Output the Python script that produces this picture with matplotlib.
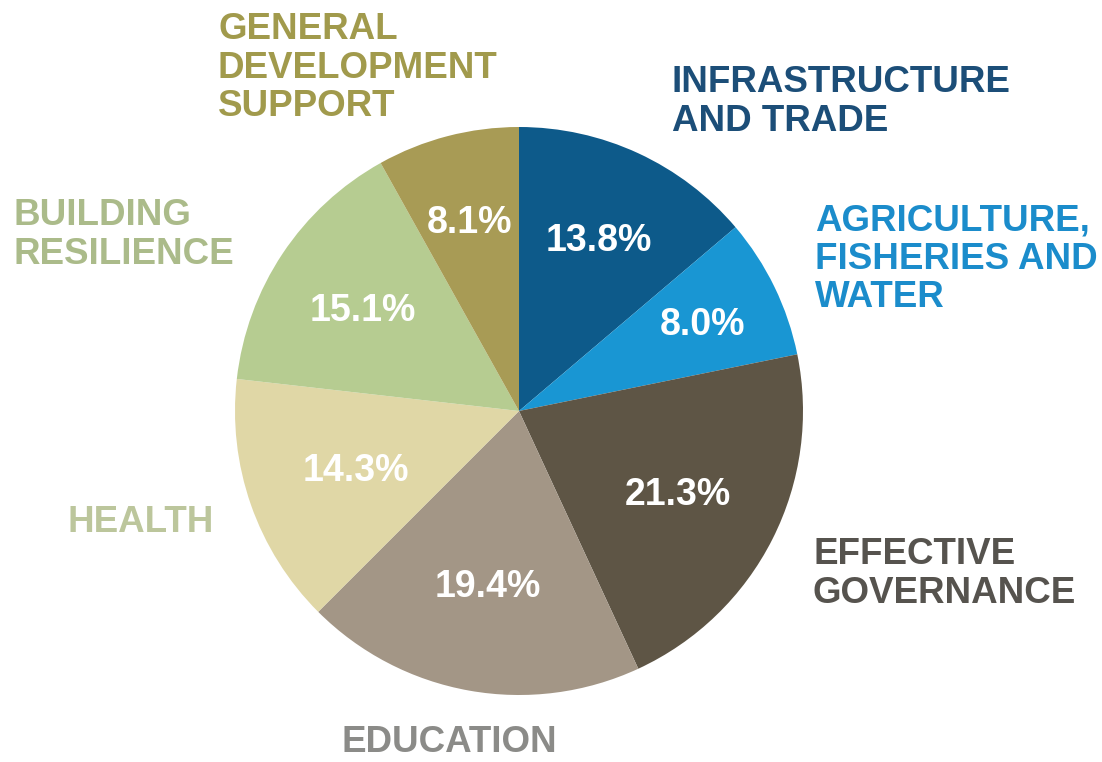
import numpy as np
import matplotlib
matplotlib.use("Agg")
import matplotlib.pyplot as plt

categories = ['INFRASTRUCTURE\nAND TRADE', 'AGRICULTURE,\nFISHERIES AND\nWATER',
              'EFFECTIVE\nGOVERNANCE', 'EDUCATION', 'HEALTH',
              'BUILDING\nRESILIENCE', 'GENERAL\nDEVELOPMENT\nSUPPORT']
shares = [13.8, 8.0, 21.3, 19.4, 14.3, 15.1, 8.1]

slice_colors = ['#0d5a8a', '#1996d3', '#5e5545', '#a39686', '#e0d7a6', '#b6cc91', '#a89b55']
text_colors = ['#1c4e78', '#1b8ccb', '#56534e', '#8b8b88', '#bcc69c', '#abbb8a', '#a19a4c']
pct_dist = [0.673, 0.72, 0.628, 0.618, 0.608, 0.66, 0.696]
# label block centres in pixels (left edge x, middle y)
label_pos = [(672, 102), (815, 259), (813, 574), (342, 743), (68, 523), (13, 235), (218, 68)]

plt.rcParams['font.family'] = ['Liberation Sans', 'DejaVu Sans']

W, H = 1102, 762
cx, cy, R = 519, 411, 284
fig = plt.figure(figsize=(W / 100, H / 100), dpi=100)
ax = fig.add_axes([0, 0, 1, 1])

wedges, _ = ax.pie(shares, colors=slice_colors, startangle=90, counterclock=False,
                   radius=1, wedgeprops=dict(linewidth=0))
ax.set_aspect('auto')
ax.set_xlim(-cx / R, (W - cx) / R)
ax.set_ylim(-(H - cy) / R, cy / R)
ax.axis('off')

pct_size = 27
half_cap = 0.716 * pct_size * 100 / 72 / 2 / R
for w, val, d in zip(wedges, shares, pct_dist):
    ang = np.deg2rad((w.theta1 + w.theta2) / 2)
    ax.text(d * np.cos(ang), d * np.sin(ang) - half_cap, f'{val:.1f}%', color='white',
            fontsize=pct_size, fontweight='bold', ha='center', va='baseline')

for lab, col, (px, py) in zip(categories, text_colors, label_pos):
    ax.text((px - cx) / R, (cy - py) / R, lab, color=col, fontsize=26.5,
            fontweight='bold', ha='left', va='center', linespacing=1.12)

fig.savefig('out.png', dpi=100)
